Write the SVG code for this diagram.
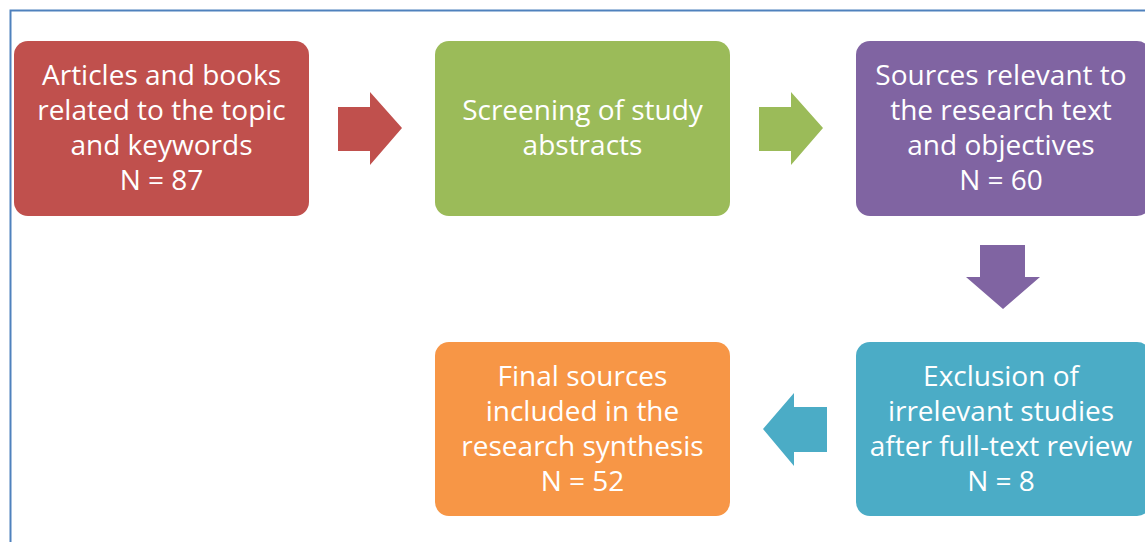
<svg xmlns="http://www.w3.org/2000/svg" width="1145" height="542" viewBox="0 0 1145 542">
<style>
.t{font-family:"Open Sans","Liberation Sans",sans-serif;font-size:28px;fill:#fff;text-anchor:middle}
</style>
<rect width="1145" height="542" fill="#fff"/>
<path d="M10.5 542 V10.5 H1145" fill="none" stroke="#4F81BD" stroke-width="2"/>
<g id="connectors">
<polygon points="338,107 370,107 370,92 402,128 370,165 370,151 338,151" fill="#C0504D"/>
<polygon points="759,107 791,107 791,92 823,128 791,165 791,151 759,151" fill="#9BBB59"/>
<polygon points="980,245 1025,245 1025,277 1040,277 1003,309 966,277 980,277" fill="#8064A2"/>
<polygon points="827,407 794,407 794,393 763,429 794,466 794,452 827,452" fill="#4BACC6"/>
</g>
<g id="n1">
<rect x="14" y="41" width="295" height="175" rx="14" fill="#C0504D"/>
<text class="t"><tspan x="161.5" y="85">Articles and books</tspan><tspan x="161.5" y="120">related to the topic</tspan><tspan x="161.5" y="155">and keywords</tspan><tspan x="161.5" y="190">N = 87</tspan></text>
</g>
<g id="n2">
<rect x="435" y="41" width="295" height="175" rx="14" fill="#9BBB59"/>
<text class="t"><tspan x="582.5" y="120">Screening of study</tspan><tspan x="582.5" y="155">abstracts</tspan></text>
</g>
<g id="n3">
<rect x="856" y="41" width="295" height="175" rx="14" fill="#8064A2"/>
<text class="t"><tspan x="1001" y="85">Sources relevant to</tspan><tspan x="1001" y="120">the research text</tspan><tspan x="1001" y="155">and objectives</tspan><tspan x="1001" y="190">N = 60</tspan></text>
</g>
<g id="n4">
<rect x="856" y="342" width="295" height="174" rx="14" fill="#4BACC6"/>
<text class="t"><tspan x="1001" y="386">Exclusion of</tspan><tspan x="1001" y="421">irrelevant studies</tspan><tspan x="1001" y="456">after full-text review</tspan><tspan x="1001" y="491">N = 8</tspan></text>
</g>
<g id="n5">
<rect x="435" y="342" width="295" height="174" rx="14" fill="#F79646"/>
<text class="t"><tspan x="582.5" y="386">Final sources</tspan><tspan x="582.5" y="421">included in the</tspan><tspan x="582.5" y="456">research synthesis</tspan><tspan x="582.5" y="491">N = 52</tspan></text>
</g>
</svg>
